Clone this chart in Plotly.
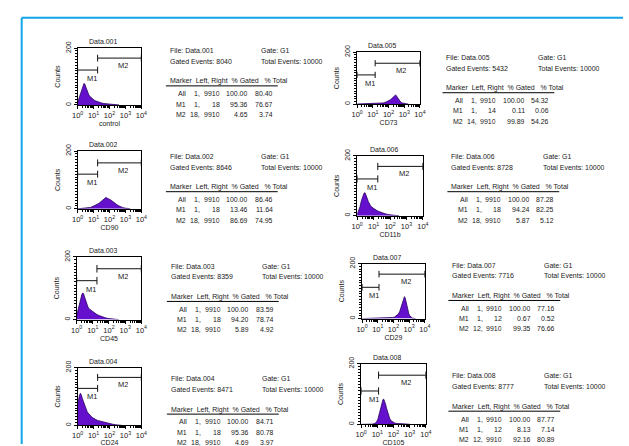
import math
import plotly.graph_objects as go

W, H = 629, 446
FONT = "Liberation Sans, Arial, sans-serif"
FS = 7
TXT = "#1a1a1a"

# ---------------- data ----------------
files = ["Data.001", "Data.002", "Data.003", "Data.004",
         "Data.005", "Data.006", "Data.007", "Data.008"]
params = ["control", "CD90", "CD45", "CD24", "CD73", "CD11b", "CD29", "CD105"]
gate = ["G1"] * 8
gated_events = [8040, 8646, 8359, 8471, 5432, 8728, 7716, 8777]
total_events = [10000] * 8
range_left = [1] * 8
range_right = [9910] * 8
m1_right = [18, 18, 18, 18, 14, 18, 12, 12]
pct_gated_all = [100.00] * 8
pct_gated_m1 = [95.36, 13.46, 94.20, 95.36, 0.11, 94.24, 0.67, 8.13]
pct_gated_m2 = [4.65, 86.69, 5.89, 4.69, 99.89, 5.87, 99.35, 92.16]
pct_total_all = [80.40, 86.46, 83.59, 84.71, 54.32, 87.28, 77.16, 87.77]
pct_total_m1 = [76.67, 11.64, 78.74, 80.78, 0.06, 82.25, 0.52, 7.14]
pct_total_m2 = [3.74, 74.95, 4.92, 3.97, 54.26, 5.12, 76.66, 80.89]
m1_level = [123, 120, 124, 128, 112, 123, 114, 110]
m2_level = [165, 159, 162, 166, 157, 165, 162, 162]

hist_ch = [
    [1, 1.2, 1.5, 1.8, 2.1, 2.5, 2.8, 3.2, 3.7, 4.3, 5, 6, 7.5, 9, 11, 14, 18, 24, 32, 45, 65, 100, 160, 250, 400],
    [1, 2, 3, 4, 5, 6.5, 8, 10, 13, 16, 20, 25, 30, 38, 45, 55, 62, 70, 85, 100, 125, 150, 190, 240, 300, 400, 500, 650, 850, 1100, 1500, 2000],
    [1, 1.2, 1.5, 1.8, 2.1, 2.4, 2.7, 3.1, 3.6, 4.2, 5, 6, 7.5, 9, 11, 14, 18, 24, 32, 45, 65, 100, 160, 250, 400],
    [1, 1.15, 1.3, 1.5, 1.7, 2, 2.4, 2.8, 3.3, 4, 5, 6, 7.5, 9, 11, 14, 18, 24, 32, 45, 65, 100, 160, 250, 400, 600],
    [1, 3, 6, 10, 15, 22, 32, 45, 60, 80, 100, 130, 160, 200, 240, 280, 320, 370, 430, 500, 600, 750, 950, 1300, 1800],
    [1, 1.2, 1.5, 1.8, 2.2, 2.6, 3, 3.5, 4.1, 4.8, 5.6, 6.6, 8, 10, 12.5, 16, 21, 28, 38, 55, 80, 120, 200, 350],
    [1, 3, 6, 10, 15, 22, 32, 45, 65, 90, 120, 160, 200, 250, 300, 350, 400, 450, 500, 560, 630, 720, 820, 950, 1100, 1300, 1600, 2000, 2600],
    [1, 3, 5, 7, 9, 11, 13, 15, 17.5, 20, 22.5, 25, 28, 32, 37, 43, 50, 60, 75, 95, 125, 170, 250, 400, 700, 1100],
]
hist_counts = [
    [8, 22, 40, 58, 70, 76, 74, 64, 52, 42, 36, 30, 25, 20, 17, 14, 11, 9, 7, 5, 4, 2, 1, 1, 0],
    [0, 1, 2, 3, 4, 5, 7, 9, 12, 15, 18, 22, 26, 30, 34, 38, 40, 37, 36, 33, 30, 26, 22, 18, 14, 10, 7, 5, 3, 2, 1, 0],
    [12, 30, 52, 70, 80, 85, 82, 72, 60, 48, 40, 34, 30, 26, 23, 19, 16, 13, 10, 7, 5, 3, 2, 1, 0],
    [70, 90, 104, 111, 106, 92, 78, 66, 56, 47, 40, 34, 30, 26, 22, 20, 17, 15, 13, 11, 9, 6, 4, 2, 1, 0],
    [0, 1, 1, 1, 2, 2, 3, 4, 6, 9, 12, 16, 21, 27, 32, 35, 31, 25, 18, 12, 7, 4, 2, 1, 0],
    [4, 14, 30, 50, 66, 75, 77, 70, 58, 47, 39, 33, 28, 24, 20, 17, 14, 11, 8, 6, 4, 2, 1, 0],
    [0, 1, 2, 2, 3, 3, 2, 3, 3, 4, 6, 10, 16, 26, 40, 55, 68, 76, 80, 75, 62, 45, 30, 18, 10, 5, 2, 1, 0],
    [0, 0, 1, 3, 8, 18, 32, 48, 64, 76, 82, 83, 78, 68, 54, 40, 28, 18, 11, 7, 4, 3, 3, 2, 1, 0],
]

x_tick_vals = [1, 10, 100, 1000, 10000]
x_tick_text = ["10<sup>0</sup>", "10<sup>1</sup>", "10<sup>2</sup>", "10<sup>3</sup>", "10<sup>4</sup>"]
y_tick_vals = [0, 200]
y_tick_text = ["0", "200"]
header = ["Marker", "Left, Right", "% Gated", "% Total"]
header_gaps = [1, 1, 2]   # non-breaking spaces between header words

# ---------------- layout geometry (pixels) ----------------
boxes = [(73, 138, 42, 100), (73, 138, 147, 206), (72, 138, 255, 319), (73, 138, 368, 427),
         (358, 422, 46, 99), (358, 425, 152, 213), (363, 427, 262, 318), (362, 428, 364, 426)]
text_org = [(165, 44), (165, 152), (166, 264), (166, 379),
            (447, 51), (452, 152), (453, 263), (453, 376)]

NBSP = "\u00a0"
header_text = header[0]
for g, w in zip(header_gaps, header[1:]):
    header_text += NBSP * (g + 1) + w


def px(x):
    return x / W


def py(y):
    return 1 - y / H


def ann(text, x, y, xanchor="left", size=FS):
    return dict(text=text, x=px(x), y=py(y), xref="paper", yref="paper",
                xanchor=xanchor, yanchor="middle", height=10, valign="middle",
                showarrow=False, font=dict(family=FONT, size=size, color=TXT))


minor_x = [k * 10 ** d for d in range(4) for k in range(2, 10)]

fig = go.Figure()
annotations = []
shapes = []
layout = {}

for i in range(8):
    n = i + 1
    xs = "x" if n == 1 else f"x{n}"
    ys = "y" if n == 1 else f"y{n}"
    l, r, t, b = boxes[i]

    layout["xaxis" if n == 1 else f"xaxis{n}"] = dict(
        domain=[px(l), px(r)], anchor=ys, type="log", range=[0, 4],
        tickvals=x_tick_vals, ticktext=x_tick_text, ticks="outside", ticklen=3,
        tickwidth=1, tickcolor="black", showline=True, linecolor="black", linewidth=1,
        mirror=True, showgrid=False, zeroline=False,
        minor=dict(tickvals=minor_x, ticks="outside", ticklen=2, tickcolor="black", showgrid=False),
        tickfont=dict(family=FONT, size=7.5, color=TXT),
        title=dict(text=params[i], font=dict(family=FONT, size=FS, color=TXT), standoff=1),
        fixedrange=True,
    )
    layout["yaxis" if n == 1 else f"yaxis{n}"] = dict(
        domain=[py(b), py(t)], anchor=xs, range=[0, 200],
        tickvals=y_tick_vals, ticktext=y_tick_text, tickangle=-90, ticks="outside", ticklen=3,
        tickwidth=1, tickcolor="black", showline=True, linecolor="black", linewidth=1,
        mirror=True, showgrid=False, zeroline=False,
        minor=dict(dtick=10, ticks="outside", ticklen=2, tickcolor="black", showgrid=False),
        tickfont=dict(family=FONT, size=FS, color=TXT),
        title=dict(text="Counts", font=dict(family=FONT, size=FS, color=TXT), standoff=3),
        fixedrange=True,
    )

    # histogram
    fig.add_trace(go.Scatter(x=hist_ch[i], y=hist_counts[i], mode="lines", fill="tozeroy",
                             fillcolor="#6410cc", line=dict(color="#2a0060", width=0.8),
                             xaxis=xs, yaxis=ys, showlegend=False, hoverinfo="skip"))

    # markers M1 / M2
    d = 12
    for (lo, hi, lev, lab, dy) in [(range_left[i], m1_right[i], m1_level[i], "M1", -8),
                                  (m1_right[i], range_right[i], m2_level[i], "M2", -7)]:
        mx = [lo, hi, None, lo, lo, None, hi, hi]
        my = [lev, lev, None, lev - d, lev + d, None, lev - d, lev + d]
        fig.add_trace(go.Scatter(x=mx, y=my, mode="lines", line=dict(color="#111", width=1),
                                 xaxis=xs, yaxis=ys, showlegend=False, hoverinfo="skip"))
        cx = (math.log10(lo) + math.log10(hi)) / 2 + 0.25
        annotations.append(dict(text=lab, x=cx, y=lev, xref=xs, yref=ys, xanchor="center",
                                yanchor="middle", height=10, valign="middle", yshift=dy,
                                showarrow=False, font=dict(family=FONT, size=7.5, color=TXT)))

    # panel title
    annotations.append(ann(files[i], (l + r) / 2 - 6, t - 7, xanchor="center"))

    # text block
    tx, ty = text_org[i]
    annotations.append(ann(f"File: {files[i]}", tx, ty))
    annotations.append(ann(f"Gate: {gate[i]}", tx + 93, ty))
    annotations.append(ann(f"Gated Events: {gated_events[i]}", tx, ty + 11))
    annotations.append(ann(f"Total Events: {total_events[i]}", tx + 93, ty + 11))
    hy = ty + 32
    annotations.append(ann(header_text, tx, hy))
    shapes.append(dict(type="line", xref="paper", yref="paper", x0=px(tx - 2), x1=px(tx + 112),
                       y0=py(hy + 4.5), y1=py(hy + 4.5), line=dict(color="black", width=1)))
    rows = [("All", f"{range_left[i]},", f"{range_right[i]}", pct_gated_all[i], pct_total_all[i]),
            ("M1", f"{range_left[i]},", f"{m1_right[i]}", pct_gated_m1[i], pct_total_m1[i]),
            ("M2", f"{m1_right[i]},", f"{range_right[i]}", pct_gated_m2[i], pct_total_m2[i])]
    for k, (mk, lft, rgt, pg, pt) in enumerate(rows):
        ry = hy + 12 + k * 10.5
        annotations.append(ann(mk, tx + 21, ry, xanchor="right"))
        annotations.append(ann(lft, tx + 35, ry, xanchor="right"))
        annotations.append(ann(rgt, tx + 55, ry, xanchor="right"))
        annotations.append(ann(f"{pg:.2f}", tx + 84, ry, xanchor="right"))
        annotations.append(ann(f"{pt:.2f}", tx + 109, ry, xanchor="right"))

# blue frame
shapes.append(dict(type="line", xref="paper", yref="paper", x0=px(16), x1=1.0,
                   y0=py(11), y1=py(11), line=dict(color="#12a5e8", width=2)))
shapes.append(dict(type="line", xref="paper", yref="paper", x0=px(16), x1=px(16),
                   y0=py(11), y1=0.0, line=dict(color="#12a5e8", width=2)))

fig.update_layout(**layout)
fig.update_layout(width=W, height=H, autosize=False, margin=dict(l=0, r=0, t=0, b=0, pad=0),
                  paper_bgcolor="white", plot_bgcolor="white", showlegend=False,
                  annotations=annotations, shapes=shapes,
                  font=dict(family=FONT, size=FS, color=TXT))

fig.write_html("out.html", config={"displayModeBar": False, "staticPlot": True},
               post_script="document.body.style.margin='0';document.body.style.padding='0';")
